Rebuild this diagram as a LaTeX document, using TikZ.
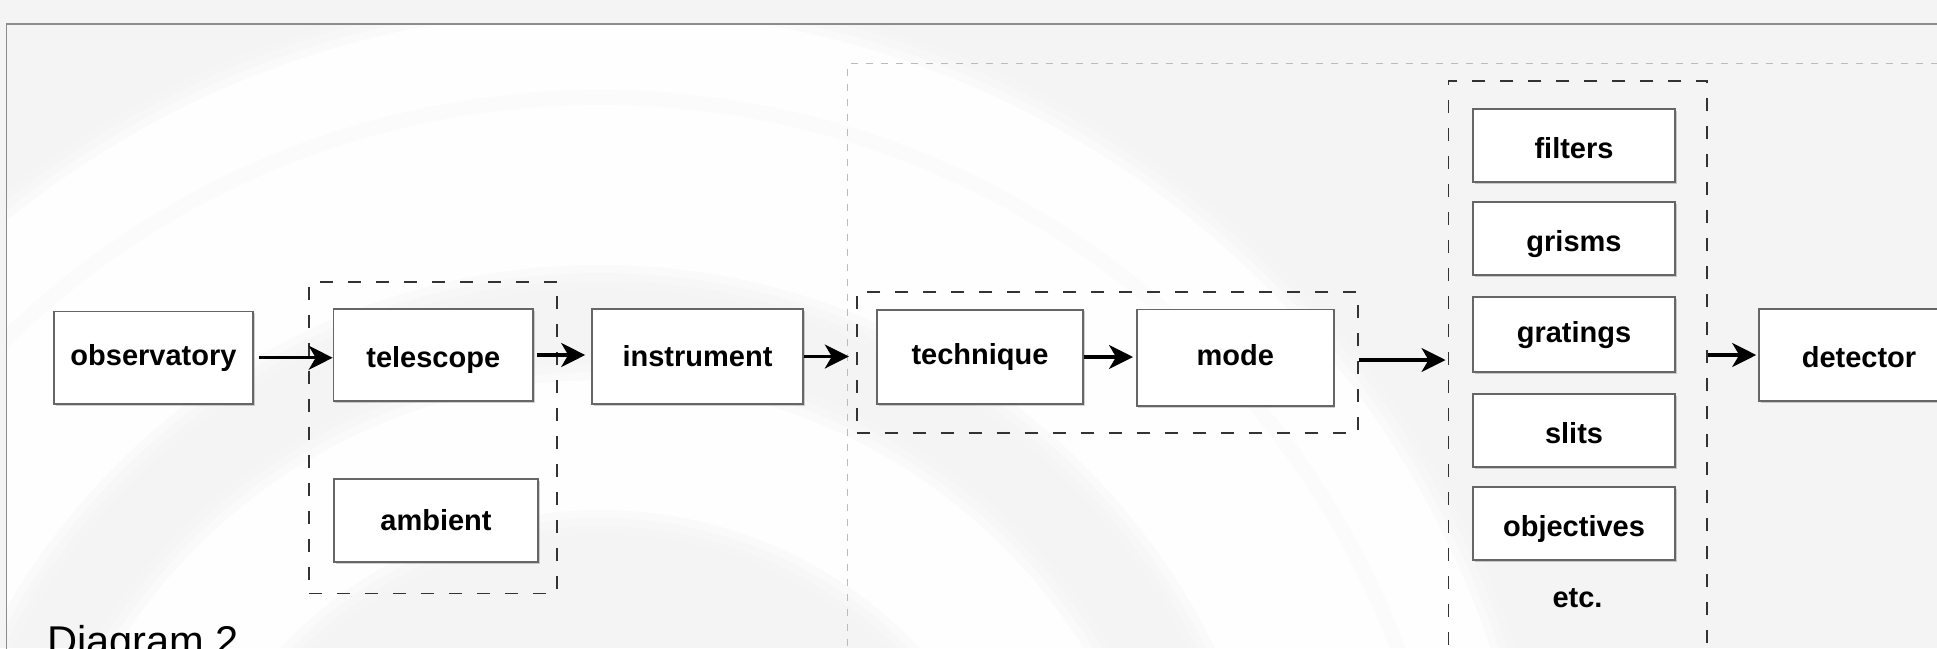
\documentclass[tikz,border=0pt]{standalone}
\usepackage{fontspec}
\setmainfont{Liberation Sans}
\usetikzlibrary{arrows.meta,shadows}
\definecolor{pagegray}{HTML}{F4F4F4}
\definecolor{boxedge}{HTML}{666666}
\definecolor{grpedge}{HTML}{333333}
\definecolor{stageedge}{HTML}{BBBBBB}
\definecolor{frameedge}{HTML}{8C8C8C}
\newcommand\lblfont{\fontsize{29}{34}\selectfont\bfseries}
\newcommand\capfont{\fontsize{41.6}{48}\selectfont}
\begin{document}
\begin{tikzpicture}[x=1pt,y=-1pt,
  box/.style={draw=boxedge, line width=1.6pt, fill=white, inner sep=0pt,
    font=\lblfont, text height=21pt, text depth=6pt,
    drop shadow={shadow xshift=1.5pt, shadow yshift=-1.5pt, fill=black, opacity=0.18}},
  low/.style={text height=26pt, text depth=1pt},
  mid/.style={text height=23.5pt, text depth=3.5pt},
  grp/.style={draw=grpedge, line width=1.8pt, dash pattern=on 13pt off 15pt, inner sep=0pt},
  stagebox/.style={draw=stageedge, line width=1.3pt, dash pattern=on 7pt off 8pt, inner sep=0pt},
  arr/.style={line width=3.3pt, -{Stealth[length=24pt, width=24pt, inset=7pt]}},
  ring/.style={draw=white, line width=#1},
]
\useasboundingbox (0,0) rectangle (1937,648);
\clip (0,0) rectangle (1937,648);
\fill[pagegray] (0,0) rectangle (1937,648);

% faint watermark rings inside the frame
\begin{scope}
  \clip (7,25) rectangle (1937,648);
  \coordinate (wm) at (600,950);
  \foreach \r/\w in {900/80, 765/160, 505/130}{
    \draw[ring=\w+48pt, opacity=0.15] (wm) circle (\r);
    \draw[ring=\w+32pt, opacity=0.25] (wm) circle (\r);
    \draw[ring=\w+16pt, opacity=0.4] (wm) circle (\r);
    \draw[ring=\w pt, opacity=0.8] (wm) circle (\r);
  }
\end{scope}

% outer frame and the light dashed stage
\draw[frameedge, line width=1.5pt] (6.7,2000) -- (6.7,24) -- (2100,24);
\node[stagebox, minimum width=1200pt, minimum height=700pt, anchor=north west] (stage) at (847,63) {};

% dashed groups
\node[grp, minimum width=247.7pt, minimum height=311.8pt] (tgrp) at (433.15,437.6) {};
\node[grp, minimum width=501.3pt, minimum height=141pt] (cgrp) at (1107.35,362.5) {};
\node[grp, minimum width=258.5pt, minimum height=640pt, anchor=north west] (fgrp) at (1447.5,80) {};

% boxes
\node[box, minimum width=199pt, minimum height=92.5pt] (obs) at (153.5,357.75) {observatory};
\node[box, low, minimum width=199.5pt, minimum height=92pt] (tel) at (433.25,355) {telescope};
\node[box, mid, minimum width=204pt, minimum height=83pt] (amb) at (436,520.5) {ambient};
\node[box, mid, minimum width=211pt, minimum height=95pt] (ins) at (697.5,356.5) {instrument};
\node[box, minimum width=206pt, minimum height=94.5pt] (tech) at (980,357) {technique};
\node[box, minimum width=197pt, minimum height=96.5pt] (mode) at (1235.3,357.8) {mode};
\node[box, low, minimum width=202pt, minimum height=73pt] (filt) at (1574,145.5) {filters};
\node[box, low, minimum width=202pt, minimum height=73pt] (gris) at (1574,238.5) {grisms};
\node[box, minimum width=202pt, minimum height=75pt] (grat) at (1574,334.5) {gratings};
\node[box, low, minimum width=202pt, minimum height=73pt] (slit) at (1574,430.5) {slits};
\node[box, low, minimum width=202pt, minimum height=73pt] (obj) at (1574,523.5) {objectives};
\node[font=\lblfont, inner sep=0pt, anchor=base] (etc) at (1577.5,607.5) {etc.};
\node[box, low, minimum width=200pt, minimum height=92pt] (det) at (1859,355) {detector};

% connectors
\draw[arr, shorten <=5pt] (obs) -- (obs -| tel.west);
\draw[arr, shorten <=3pt, shorten >=6pt] (tel) -- (tel -| ins.west);
\draw[arr, shorten >=7pt] (ins) -- (ins -| cgrp.west);
\draw[arr, shorten >=3pt] (tech) -- (tech -| mode.west);
\draw[arr, shorten >=2pt] (cgrp.east |- 0,360) -- (fgrp.west |- 0,360);
\draw[arr, shorten >=2pt] (fgrp.east |- det.west) -- (det.west);

% caption
\node[font=\capfont, inner sep=0pt, anchor=base west] (cap) at (47,655) {Diagram 2};
\end{tikzpicture}
\end{document}
